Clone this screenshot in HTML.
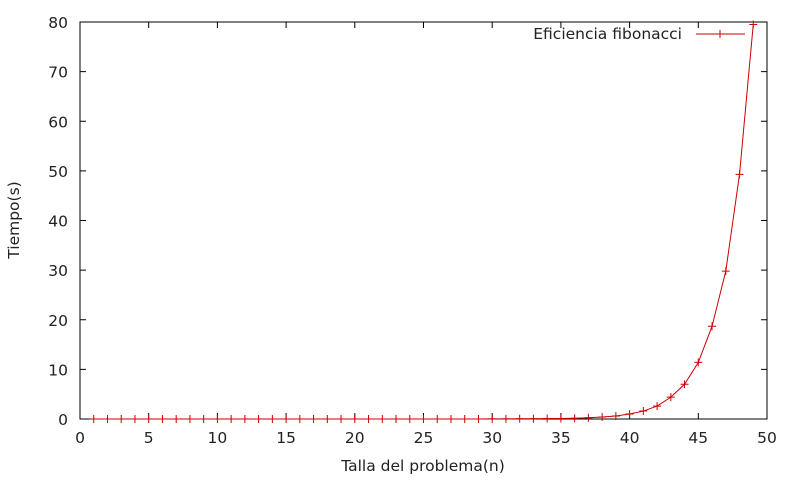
<!DOCTYPE html>
<html><head><meta charset="utf-8"><style>
body{margin:0;background:#fff;}
svg text{font-family:"DejaVu Sans","Liberation Sans",sans-serif;font-size:15.5px;fill:#222;}
</style></head><body>
<svg id="chart" width="800" height="480" viewBox="0 0 800 480" xmlns="http://www.w3.org/2000/svg">
<rect width="800" height="480" fill="#fff"/>
<g id="axes"></g>
<g id="series"></g>
<text x="423" y="471" text-anchor="middle">Talla del problema(n)</text>
<text transform="translate(19,220) rotate(-90)" text-anchor="middle">Tiempo(s)</text>
<g>
<text x="682" y="39" text-anchor="end">Eficiencia fibonacci</text>
<line x1="696" y1="34" x2="745" y2="34" stroke="#cc0000" stroke-width="1"/>
<path d="M716,34h8M720,30v8" stroke="#cc0000" stroke-width="1"/>
</g>
</svg>
<script>
const xTicks=[0,5,10,15,20,25,30,35,40,45,50];
const yTicks=[0,10,20,30,40,50,60,70,80];
const nValues=[1,2,3,4,5,6,7,8,9,10,11,12,13,14,15,16,17,18,19,20,21,22,23,24,25,26,27,28,29,30,31,32,33,34,35,36,37,38,39,40,41,42,43,44,45,46,47,48,49];
const timeValues=[0,0,0,0,0,0,0,0,0,0,0,0,0,0,0,0,0,0,0,0,0,0,0.001,0.001,0.002,0.003,0.004,0.006,0.01,0.015,0.025,0.04,0.06,0.1,0.1,0.15,0.25,0.4,0.6,1.0,1.6,2.6,4.4,7.0,11.4,18.7,29.8,49.3,79.5];
const X0=80,X1=767,Y0=419,Y1=22;
const sx=v=>X0+(v-0)/(50-0)*(X1-X0);
const sy=v=>Y0-(v-0)/(80-0)*(Y0-Y1);
const NS="http://www.w3.org/2000/svg";
const ax=document.getElementById('axes'),se=document.getElementById('series');
function mk(t,a,p){const e=document.createElementNS(NS,t);for(const k in a)e.setAttribute(k,a[k]);p.appendChild(e);return e;}
const frame=mk('rect',{x:X0,y:Y1,width:X1-X0,height:Y0-Y1,fill:'none',stroke:'#000','stroke-width':1},ax);


xTicks.forEach(v=>{
 const x=sx(v);
 const t=mk('path',{d:`M${x},${Y0}v-6M${x},${Y1}v6`,stroke:'#000','stroke-width':1},ax);
 
 
 const l=mk('text',{x:x,y:443,'text-anchor':'middle'},ax);l.textContent=v;
 
 
});
yTicks.forEach(v=>{
 const y=sy(v);
 const t=mk('path',{d:`M${X0},${y}h6M${X1},${y}h-6`,stroke:'#000','stroke-width':1},ax);
 
 
 const l=mk('text',{x:68,y:y+6,'text-anchor':'end'},ax);l.textContent=v;
 
 
});
const pts=nValues.map((n,i)=>[sx(n),sy(timeValues[i])]);
const line=mk('polyline',{points:pts.map(p=>p.join(',')).join(' '),fill:'none',stroke:'#cc0000','stroke-width':1},se);


pts.forEach(p=>{
 const m=mk('path',{d:`M${p[0]-4},${p[1]}h8M${p[0]},${p[1]-4}v8`,stroke:'#cc0000','stroke-width':1},se);
 
 
});
</script>
</body></html>
